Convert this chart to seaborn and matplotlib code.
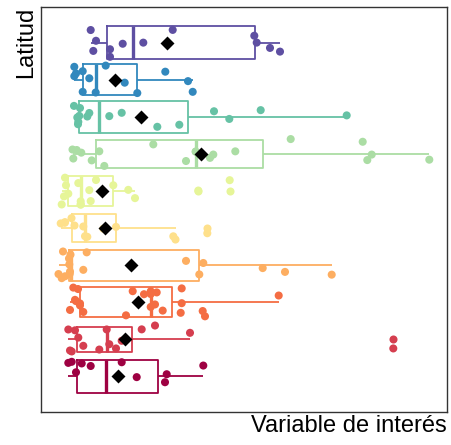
import numpy as np
import pandas as pd
import matplotlib
matplotlib.use("Agg")
import matplotlib.pyplot as plt
import seaborn as sns

# Latitude bands, listed top to bottom
latitudes = ["45°", "40°", "35°", "30°", "25°", "20°", "15°", "10°", "5°", "0°"]

# Observed values of the variable in each band
v_45 = [49.7, 52.3, 55, 69, 69, 81.7, 102.3, 131.7, 213.3, 215.7, 229, 239]
v_40 = [33.3, 33.3, 35, 41.7, 41.7, 48.3, 54.7, 64.7, 83.7, 96.3, 124.3, 147, 151.7]
v_35 = [33, 36.3, 37, 37.3, 38.3, 39, 46.3, 48.3, 68.3, 80.7, 116.3, 138.3,
        173, 188.3, 219.7, 305.7]
v_30 = [31.5, 32.3, 35.7, 40.3, 50.7, 58.3, 63.3, 112.3, 145, 154.7, 154.7, 169,
        172.3, 194.3, 249.7, 321.7, 326.3, 330.7, 388.3]
v_25 = [20.7, 23, 24, 25, 27.3, 37.3, 39.7, 39.7, 39.7, 48.3, 49.7, 55, 72.3,
        87.3, 94, 157.3, 188.7]
v_20 = [19.7, 23.7, 24, 30.5, 33.5, 42.3, 44, 46.3, 62.3, 75, 132.3, 134.5, 166.3]
v_15 = [17.5, 20.7, 22, 24, 28, 28.3, 28.7, 29, 29.5, 42.3, 45.7, 145, 158.3,
        162.3, 221.7, 244, 290.7]
v_10 = [29, 32.3, 34, 35, 37, 39, 39, 42.3, 85, 91.7, 103, 109.7, 109.7, 109.7,
        114, 115.7, 121.7, 139.7, 140.7, 140.7, 161.7, 164, 237.7]
v_05 = [27.3, 29, 30.7, 34, 37.3, 42.3, 58.3, 65.7, 68.3, 75, 80.7, 100.7, 114,
        149, 352.3]
v_00 = [27.3, 30.7, 35, 40.7, 49.7, 80.7, 95.7, 124, 125.7, 162.3]

valores = [v_45, v_40, v_35, v_30, v_25, v_20, v_15, v_10, v_05, v_00]

# Styling: Spectral colours per band and box thickness
colores = ["#5E4FA2", "#3288BD", "#66C2A5", "#ABDDA4", "#E6F598",
           "#FEE08B", "#FDAE61", "#F46D43", "#D53E4F", "#9E0142"]
anchos = [0.89, 0.84, 0.87, 0.76, 0.79, 0.75, 0.84, 0.81, 0.69, 0.88]

df = pd.DataFrame({
    "latitud": np.repeat(latitudes, [len(v) for v in valores]),
    "valor": np.concatenate(valores),
})

sns.set_theme(style="white")
plt.rcParams["font.family"] = ["Liberation Sans", "DejaVu Sans"]

fig = plt.figure(figsize=(4.51, 4.45), dpi=100)
ax = fig.add_axes([41 / 451, 33 / 445, 406 / 451, 405 / 445])

for lat, color, w in zip(latitudes, colores, anchos):
    sub = df[df["latitud"] == lat]
    sns.boxplot(
        data=sub, x="valor", y="latitud", order=latitudes, orient="h",
        color=color, linecolor=color, saturation=1, fill=False, width=w,
        linewidth=1.3, showcaps=False,
        flierprops=dict(marker="o", markersize=5.8, markerfacecolor=color,
                        markeredgecolor="none"),
        medianprops=dict(linewidth=2.4),
        ax=ax,
    )

np.random.seed(7)
sns.stripplot(
    data=df, x="valor", y="latitud", order=latitudes, orient="h",
    hue="latitud", hue_order=latitudes, palette=colores,
    jitter=0.4, size=5.8, linewidth=0, legend=False, zorder=3, ax=ax,
)

sns.pointplot(
    data=df, x="valor", y="latitud", order=latitudes, orient="h",
    estimator="mean", errorbar=None, color="black", markers="D",
    linestyle="none", markersize=4.8, zorder=5, ax=ax,
)

ax.set_xlim(0, 406)
ax.set_ylim(len(latitudes) - 1 + 0.96, -0.96)
ax.set_xticks([])
ax.set_yticks([])
for side in ax.spines.values():
    side.set_visible(True)
    side.set_color("#333333")
    side.set_linewidth(1.0)

ax.set_xlabel("Variable de interés", loc="right", fontsize=17, labelpad=2,
              color="black")
ax.set_ylabel("Latitud", loc="top", fontsize=17, labelpad=3, color="black")

fig.savefig("out.png", dpi=100)
